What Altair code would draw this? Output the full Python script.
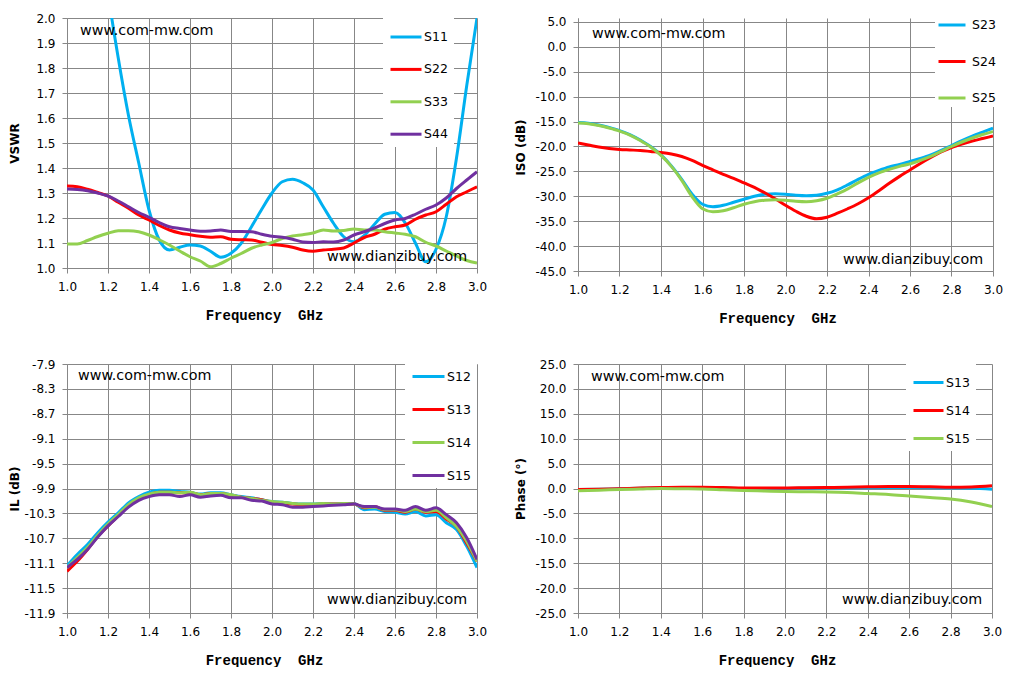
import pandas as pd
import altair as alt

# frequency grid (GHz)
freq = [1.00, 1.05, 1.10, 1.15, 1.20, 1.25, 1.30, 1.35, 1.40, 1.45,
        1.50, 1.55, 1.60, 1.65, 1.70, 1.75, 1.80, 1.85, 1.90, 1.95,
        2.00, 2.05, 2.10, 2.15, 2.20, 2.25, 2.30, 2.35, 2.40, 2.45,
        2.50, 2.55, 2.60, 2.65, 2.70, 2.75, 2.80, 2.85, 2.90, 2.95, 3.00]
freq_phase = [1.0, 1.1, 1.2, 1.3, 1.4, 1.5, 1.6, 1.7, 1.8, 1.9, 2.0,
              2.1, 2.2, 2.3, 2.4, 2.5, 2.6, 2.7, 2.8, 2.9, 3.0]
x_ticks = [1.0, 1.2, 1.4, 1.6, 1.8, 2.0, 2.2, 2.4, 2.6, 2.8, 3.0]

# VSWR
s11 = [3.40, 3.10, 2.75, 2.42, 2.10, 1.84, 1.61, 1.42, 1.232, 1.112,
       1.072, 1.083, 1.092, 1.088, 1.067, 1.043, 1.059, 1.099, 1.165, 1.235,
       1.300, 1.345, 1.355, 1.341, 1.312, 1.245, 1.179, 1.125, 1.105, 1.130,
       1.175, 1.215, 1.222, 1.180, 1.099, 1.025, 1.075, 1.205, 1.440, 1.730, 2.00]
s22 = [1.328, 1.325, 1.315, 1.302, 1.288, 1.263, 1.239, 1.212, 1.192, 1.170,
       1.152, 1.140, 1.133, 1.127, 1.123, 1.125, 1.115, 1.113, 1.112, 1.103,
       1.094, 1.090, 1.083, 1.072, 1.067, 1.072, 1.075, 1.080, 1.100, 1.122,
       1.135, 1.155, 1.165, 1.172, 1.195, 1.212, 1.225, 1.255, 1.285, 1.305, 1.325]
s33 = [1.096, 1.096, 1.110, 1.126, 1.139, 1.149, 1.149, 1.145, 1.132, 1.113,
       1.092, 1.068, 1.045, 1.028, 1.005, 1.018, 1.039, 1.058, 1.079, 1.092,
       1.102, 1.118, 1.128, 1.133, 1.140, 1.152, 1.148, 1.150, 1.156, 1.152,
       1.152, 1.145, 1.140, 1.135, 1.125, 1.103, 1.088, 1.068, 1.048, 1.030, 1.020]
s44 = [1.316, 1.314, 1.309, 1.300, 1.288, 1.268, 1.245, 1.222, 1.203, 1.182,
       1.165, 1.158, 1.152, 1.147, 1.148, 1.152, 1.146, 1.146, 1.145, 1.135,
       1.127, 1.123, 1.115, 1.104, 1.102, 1.105, 1.104, 1.112, 1.132, 1.145,
       1.160, 1.178, 1.192, 1.198, 1.215, 1.235, 1.252, 1.280, 1.318, 1.352, 1.385]

# isolation (dB)
s23 = [-15.2, -15.35, -15.7, -16.2, -16.8, -17.6, -18.7, -20.0, -21.7, -23.9,
       -26.6, -29.6, -31.6, -32.1, -31.8, -31.2, -30.6, -30.0, -29.6, -29.5,
       -29.6, -29.8, -29.9, -29.8, -29.4, -28.7, -27.7, -26.6, -25.6, -24.8,
       -24.1, -23.6, -23.0, -22.4, -21.7, -20.8, -19.8, -18.8, -17.9, -17.1, -16.3]
s24 = [-19.3, -19.7, -20.1, -20.4, -20.6, -20.7, -20.8, -21.0, -21.2, -21.5,
       -22.0, -22.8, -23.8, -24.7, -25.6, -26.4, -27.3, -28.2, -29.3, -30.5,
       -31.8, -33.0, -34.0, -34.5, -34.2, -33.4, -32.5, -31.5, -30.3, -28.9,
       -27.4, -26.0, -24.7, -23.4, -22.2, -21.1, -20.2, -19.5, -18.9, -18.4, -17.9]
s25 = [-15.3, -15.45, -15.8, -16.3, -16.9, -17.7, -18.8, -20.1, -21.8, -24.0,
       -26.8, -30.1, -32.5, -33.1, -32.9, -32.3, -31.6, -31.1, -30.8, -30.7,
       -30.8, -31.0, -31.1, -30.9, -30.4, -29.5, -28.5, -27.3, -26.2, -25.3,
       -24.6, -24.0, -23.5, -22.8, -22.0, -21.0, -20.0, -19.1, -18.3, -17.6, -17.0]

# insertion loss (dB)
s12 = [-11.14, -10.96, -10.80, -10.61, -10.44, -10.29, -10.13, -10.03, -9.96, -9.93,
       -9.93, -9.95, -9.96, -9.99, -9.97, -9.97, -10.00, -10.03, -10.05, -10.08,
       -10.11, -10.12, -10.14, -10.15, -10.15, -10.14, -10.15, -10.14, -10.14, -10.24,
       -10.23, -10.27, -10.28, -10.31, -10.27, -10.34, -10.32, -10.45, -10.56, -10.83, -11.17]
s13 = [-11.23, -11.07, -10.88, -10.67, -10.50, -10.34, -10.18, -10.07, -10.00, -9.96,
       -9.96, -9.97, -9.97, -10.00, -9.98, -9.98, -10.01, -10.04, -10.06, -10.08,
       -10.12, -10.13, -10.15, -10.16, -10.16, -10.15, -10.15, -10.15, -10.15, -10.21,
       -10.19, -10.25, -10.25, -10.28, -10.23, -10.28, -10.27, -10.39, -10.51, -10.78, -11.07]
s14 = [-11.17, -11.01, -10.85, -10.65, -10.47, -10.32, -10.16, -10.05, -9.99, -9.96,
       -9.96, -9.97, -9.96, -10.00, -9.98, -9.98, -10.00, -10.04, -10.06, -10.09,
       -10.11, -10.12, -10.14, -10.15, -10.15, -10.14, -10.15, -10.14, -10.15, -10.20,
       -10.20, -10.24, -10.24, -10.27, -10.23, -10.27, -10.25, -10.37, -10.51, -10.75, -11.07]
s15 = [-11.17, -11.04, -10.88, -10.68, -10.50, -10.35, -10.20, -10.09, -10.03, -10.00,
       -10.00, -10.03, -10.00, -10.04, -10.02, -10.01, -10.05, -10.05, -10.09, -10.10,
       -10.15, -10.16, -10.20, -10.20, -10.19, -10.18, -10.17, -10.16, -10.15, -10.19,
       -10.19, -10.23, -10.23, -10.25, -10.19, -10.25, -10.21, -10.32, -10.45, -10.69, -11.04]

# phase (deg)
p13 = [-0.2, -0.15, -0.05, 0.05, 0.1, 0.15, 0.15, 0.1, 0.0, 0.0, 0.0,
       0.05, 0.1, 0.1, 0.15, 0.2, 0.2, 0.15, 0.1, 0.05, -0.15]
p14 = [-0.2, -0.15, -0.05, 0.1, 0.2, 0.25, 0.25, 0.2, 0.1, 0.1, 0.1,
       0.15, 0.2, 0.25, 0.35, 0.4, 0.4, 0.35, 0.25, 0.3, 0.55]
p15 = [-0.45, -0.35, -0.2, -0.1, 0.0, -0.05, -0.1, -0.25, -0.4, -0.5, -0.6,
       -0.65, -0.7, -0.8, -1.0, -1.2, -1.5, -1.8, -2.1, -2.7, -3.6]

BLUE, RED, GREEN, PURPLE = '#00B0F0', '#FF0000', '#92D050', '#7030A0'
GRID = '#878787'
FONT = 'DejaVu Sans'


def long_df(x, series):
    rows = []
    for k, (name, vals) in enumerate(series):
        for f, v in zip(x, vals):
            rows.append({'freq': f, 'value': v, 'series': name, 'k': k})
    return pd.DataFrame(rows)


def panel(df, names, colors, ytitle, yticks, ydomain, w, h, leg, title_x, title_y, wm):
    lines = alt.Chart(df).mark_line(strokeWidth=3, interpolate='monotone', clip=True).encode(
        x=alt.X('freq:Q', scale=alt.Scale(domain=[1.0, 3.0], nice=False, zero=False),
                axis=alt.Axis(values=x_ticks, labelExpr="format(datum.value, '.1f')",
                              labelFlush=False, labelPadding=8,
                              title='Frequency\u00a0 GHz', titleFont='Liberation Mono',
                              titleFontSize=14, titleFontWeight='bold', titleColor='black',
                              titleX=w / 2 - 8, titleY=47, titleBaseline='middle')),
        y=alt.Y('value:Q', scale=alt.Scale(domain=ydomain, nice=False, zero=False),
                axis=alt.Axis(values=yticks,
                              labelExpr="replace(format(datum.value, '.1f'), '\u2212', '-')",
                              labelFlush=False, labelPadding=7,
                              title=ytitle, titleFont=FONT, titleFontSize=12,
                              titleFontWeight='bold', titleColor='black', titleX=title_x,
                              titleY=title_y, titleBaseline='middle')),
        color=alt.Color('series:N', scale=alt.Scale(domain=names, range=colors),
                        legend=alt.Legend(orient='none', title=None, symbolType='stroke',
                                          symbolStrokeWidth=3, labelFont=FONT,
                                          labelFontSize=12.5, labelColor='black',
                                          fillColor='white', **leg)),
        order='k:Q',
        detail='series:N'
    )
    marks = alt.Chart(pd.DataFrame({'t': ['www.com-mw.com', 'www.dianzibuy.com'],
                                    'px': [wm[0], w - 150], 'py': [wm[1], wm[2]]})).mark_text(
        align='left', baseline='middle', font=FONT, fontSize=14.3, color='black'
    ).encode(text='t:N', x=alt.X('px:Q', scale=None), y=alt.Y('py:Q', scale=None))
    return alt.layer(lines, marks).properties(width=w, height=h)


vswr = panel(long_df(freq, [('S11', s11), ('S22', s22), ('S33', s33), ('S44', s44)]),
             ['S11', 'S22', 'S33', 'S44'], [BLUE, RED, GREEN, PURPLE], 'VSWR',
             [1.0, 1.1, 1.2, 1.3, 1.4, 1.5, 1.6, 1.7, 1.8, 1.9, 2.0], [1.0, 2.0], 410, 250,
             dict(legendX=316, legendY=-4, symbolSize=961, rowPadding=8.4, padding=6,
                  labelOffset=1), -53, 125, (13, 13, 239))
iso = panel(long_df(freq, [('S23', s23), ('S24', s24), ('S25', s25)]),
            ['S23', 'S24', 'S25'], [BLUE, RED, GREEN], 'ISO (dB)',
            [5, 0, -5, -10, -15, -20, -25, -30, -35, -40, -45], [-45, 5.8], 415, 253,
            dict(legendX=357, legendY=-10, symbolSize=729, rowPadding=14.5, padding=2,
                  labelOffset=5), -58, 129, (14, 16, 242))
il = panel(long_df(freq, [('S12', s12), ('S13', s13), ('S14', s14), ('S15', s15)]),
           ['S12', 'S13', 'S14', 'S15'], [BLUE, RED, GREEN, PURPLE], 'IL (dB)',
           [-7.9, -8.3, -8.7, -9.1, -9.5, -9.9, -10.3, -10.7, -11.1, -11.5, -11.9],
           [-11.9, -7.9], 410, 249,
           dict(legendX=338, legendY=-11, symbolSize=1024, rowPadding=9, padding=6,
                labelOffset=1), -53, 124.5, (11, 12, 236))
phase = panel(long_df(freq_phase, [('S13', p13), ('S14', p14), ('S15', p15)]),
              ['S13', 'S14', 'S15'], [BLUE, RED, GREEN], 'Phase (°)',
              [25, 20, 15, 10, 5, 0, -5, -10, -15, -20, -25], [-25, 25], 414, 249,
              dict(legendX=328, legendY=-4, symbolSize=900, rowPadding=5, padding=6,
                   labelOffset=1), -58, 124.5, (13, 13, 236))

chart = alt.concat(
    vswr, iso, il, phase, columns=2, bounds='flush',
    spacing=alt.RowColnumber(row=93, column=101)
).resolve_scale(color='independent', x='independent', y='independent').resolve_legend(
    color='independent'
).properties(
    padding={'left': 0, 'top': 0, 'right': 0, 'bottom': 0}
).configure_view(stroke=None).configure_axis(
    grid=True, gridColor=GRID, gridWidth=1, domainColor=GRID, tickColor=GRID,
    tickSize=5, labelFont=FONT, labelFontSize=12, labelColor='black'
)

chart.save('out.html', embed_options={'renderer': 'svg', 'actions': False})
